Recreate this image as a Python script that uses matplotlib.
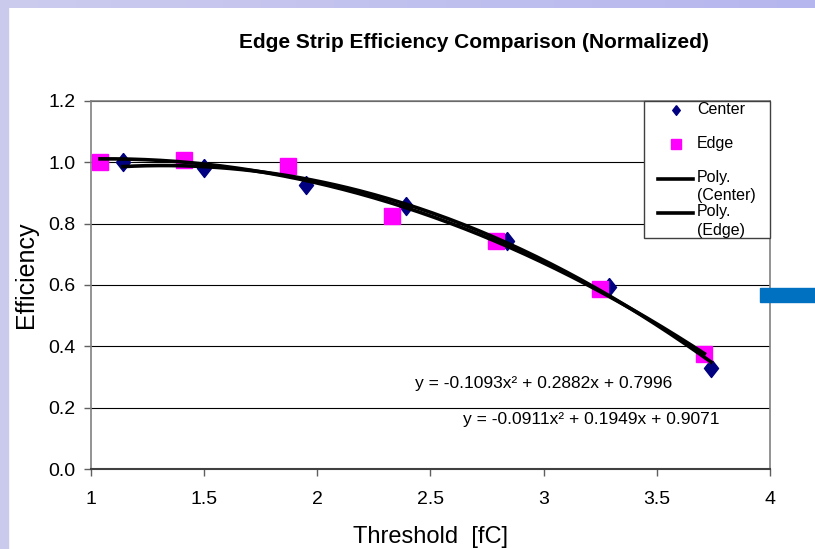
import matplotlib
matplotlib.use("Agg")
import matplotlib.pyplot as plt
import numpy as np
from matplotlib.patches import Rectangle

plt.rcParams['font.family'] = ['Liberation Sans', 'DejaVu Sans']

# Measured efficiencies (normalized) vs threshold
center_x = [1.14, 1.50, 1.95, 2.39, 2.84, 3.29, 3.74]
center_y = [1.000, 0.981, 0.926, 0.858, 0.745, 0.595, 0.330]
edge_x = [1.04, 1.41, 1.87, 2.33, 2.79, 3.25, 3.71]
edge_y = [1.000, 1.007, 0.988, 0.825, 0.743, 0.587, 0.375]

# Second order polynomial trend coefficients (highest power first)
center_fit = [-0.1093, 0.2882, 0.7996]
edge_fit = [-0.0911, 0.1949, 0.9071]

x_ticks = [1, 1.5, 2, 2.5, 3, 3.5, 4]
x_tick_labels = ['1', '1.5', '2', '2.5', '3', '3.5', '4']
y_ticks = [0.0, 0.2, 0.4, 0.6, 0.8, 1.0, 1.2]

NAVY = '#000080'
MAGENTA = '#FF00FF'

W, H = 815, 549
fig = plt.figure(figsize=(W / 100, H / 100), dpi=100)
fig.patch.set_facecolor('white')

# slide frame: lavender strips on the left and top, blue tab on the right
fig.patches.append(Rectangle((0, 0), 8 / W, 1, transform=fig.transFigure,
                             color='#CACAEC', zorder=0))
band = fig.add_axes([0, 1 - 8 / H, 1, 8 / H])
band.imshow(np.linspace(0, 1, 256)[None, :], aspect='auto',
            cmap=matplotlib.colors.LinearSegmentedColormap.from_list(
                'band', ['#CCCCEE', '#B6B6EE']), extent=[0, 1, 0, 1])
band.axis('off')
fig.patches.append(Rectangle((760 / W, 1 - 302 / H), 55 / W, 14 / H,
                             transform=fig.transFigure, color='#0070C0', zorder=0))

ax = fig.add_axes([91 / W, 1 - 469 / H, 679 / W, 368 / H])

diamond = [(0, 1), (0.78, 0), (0, -1), (-0.78, 0), (0, 1)]

xs_c = np.linspace(min(center_x), max(center_x), 200)
xs_e = np.linspace(min(edge_x), max(edge_x), 200)

ax.plot(center_x, center_y, linestyle='none', marker=diamond, markersize=13,
        color=NAVY, zorder=3)
ax.plot(edge_x, edge_y, linestyle='none', marker='s', markersize=11.5,
        color=MAGENTA, zorder=3)
ax.plot(xs_c, np.polyval(center_fit, xs_c), color='black', lw=2.6, zorder=4)
ax.plot(xs_e, np.polyval(edge_fit, xs_e), color='black', lw=2.6, zorder=4)

ax.set_xlim(1, 4)
ax.set_ylim(0, 1.2)
ax.set_xticks(x_ticks)
ax.set_xticklabels(x_tick_labels)
ax.set_yticks(y_ticks)
ax.set_yticklabels([f'{v:.1f}' for v in y_ticks])
ax.tick_params(axis='both', labelsize=14, length=5, width=1, color='#606060')
ax.tick_params(axis='x', pad=11)
ax.tick_params(axis='y', pad=6)

ax.grid(axis='y', color='black', lw=0.8)
ax.set_axisbelow(True)
for side in ['left', 'right', 'top']:
    ax.spines[side].set_color('#808080')
    ax.spines[side].set_linewidth(1.2)
ax.spines['bottom'].set_color('#404040')
ax.spines['bottom'].set_linewidth(1.5)

ax.set_xlabel('Threshold  [fC]', fontsize=17, labelpad=13)
ax.set_ylabel('Efficiency', fontsize=18)
ax.yaxis.set_label_coords(-0.078, 0.527)

fig.text(474 / W, 1 - 42 / H, 'Edge Strip Efficiency Comparison (Normalized)',
         ha='center', va='center', fontsize=15, fontweight='bold')


def eq_text(coefs):
    a, b, c = coefs
    return f'y = {a:.4f}x\u00b2 + {b:.4f}x + {c:.4f}'


ax.text(2.432, 0.280, eq_text(center_fit), fontsize=12.5, va='center', ha='left')
ax.text(2.644, 0.163, eq_text(edge_fit), fontsize=12.5, va='center', ha='left')

# legend box in the top right corner, drawn in axes fractions
def px(x, y):
    return (x - 91) / 679, (469 - y) / 368


lx0, ly0 = px(644, 238)
lx1, ly1 = px(770, 101)
ax.add_patch(Rectangle((lx0, ly0), lx1 - lx0, ly1 - ly0, transform=ax.transAxes,
                       facecolor='white', edgecolor='#404040', lw=1, zorder=5,
                       clip_on=False))
mx, my = px(676, 110)
ax.plot([mx], [my], transform=ax.transAxes, linestyle='none', marker=diamond,
        markersize=7, color=NAVY, zorder=6, clip_on=False)
mx, my = px(676, 144)
ax.plot([mx], [my], transform=ax.transAxes, linestyle='none', marker='s',
        markersize=6.5, color=MAGENTA, zorder=6, clip_on=False)
for y_line in [179, 213]:
    (ha0, hy), (ha1, _) = px(658, y_line), px(693, y_line)
    ax.plot([ha0, ha1], [hy, hy], transform=ax.transAxes, color='black', lw=2.6,
            zorder=6, clip_on=False)

legend_labels = [('Center', 110), ('Edge', 144), ('Poly.', 178), ('(Center)', 196),
                 ('Poly.', 212), ('(Edge)', 231)]
for txt, y_txt in legend_labels:
    tx, ty = px(697, y_txt)
    ax.text(tx, ty, txt, transform=ax.transAxes, fontsize=11.5, ha='left',
            va='center', zorder=7)

fig.savefig('out.png', dpi=100)
